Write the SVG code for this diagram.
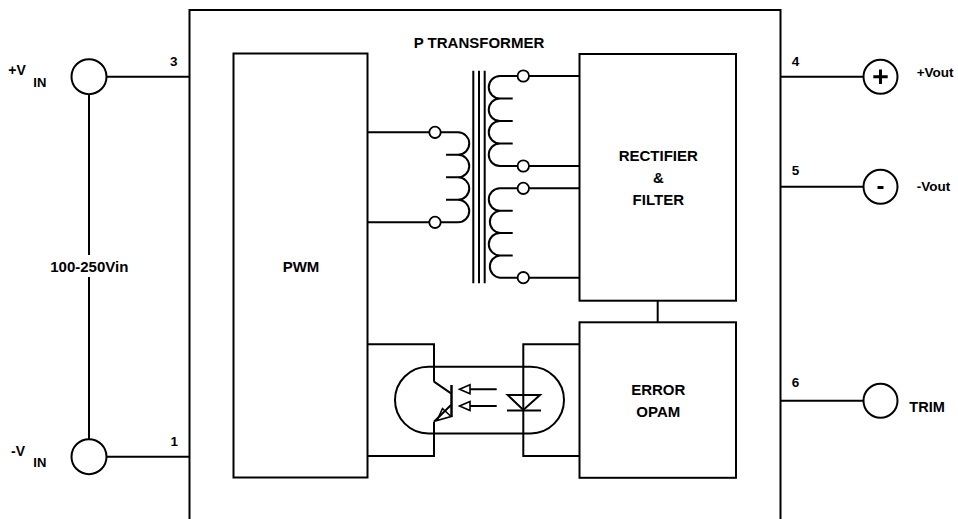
<svg xmlns="http://www.w3.org/2000/svg" width="958" height="519" viewBox="0 0 958 519">
<style>
.ln{fill:none;stroke:#000;stroke-width:2;stroke-linecap:butt;stroke-linejoin:miter}
.pin{fill:#fff;stroke:#000;stroke-width:2}
.tp{fill:#fff;stroke:#000;stroke-width:1.8}
.t{font-family:"Liberation Sans",Arial,Helvetica,sans-serif;font-weight:bold;fill:#000}
.big{font-size:15px}
.sm{font-size:13.5px}
</style>
<rect width="958" height="519" fill="#fff"/>

<g id="module">
<rect class="ln" x="189.5" y="10" width="591" height="530"/>
<text class="t big" x="479" y="48.3" text-anchor="middle">P TRANSFORMER</text>
</g>

<g id="pwm">
<rect class="ln" x="233.5" y="53.5" width="134" height="424"/>
<text class="t big" x="301" y="271.7" text-anchor="middle">PWM</text>
</g>

<g id="rectifier">
<rect class="ln" x="579.5" y="54" width="156.5" height="246.7"/>
<text class="t big" x="658.3" y="161" text-anchor="middle">RECTIFIER</text>
<text class="t big" x="658.3" y="183.3" text-anchor="middle">&amp;</text>
<text class="t big" x="658.3" y="205" text-anchor="middle">FILTER</text>
</g>

<g id="error">
<rect class="ln" x="579.5" y="322.3" width="156.5" height="155.5"/>
<text class="t big" x="658.3" y="395" text-anchor="middle">ERROR</text>
<text class="t big" x="658.3" y="416.7" text-anchor="middle">OPAM</text>
</g>

<g id="transformer">
<path class="ln" d="M473.3 70.7V283.3M479 70.7V283.3M484.7 70.7V283.3"/>
<path class="ln" d="M441 132.3H458A11.25 11.25 0 0 1 458 154.8A11.25 11.25 0 0 1 458 177.3A11.25 11.25 0 0 1 458 199.8A11.25 11.25 0 0 1 458 222.3H441"/>
<path class="ln" d="M446 154.8H458M446 177.3H458M446 199.8H458"/>
<path class="ln" d="M517.6 76H500A11.25 11.25 0 0 0 500 98.5A11.25 11.25 0 0 0 500 121A11.25 11.25 0 0 0 500 143.5A11.25 11.25 0 0 0 500 166H517.6"/>
<path class="ln" d="M500 98.5H512.7M500 121H512.7M500 143.5H512.7"/>
<path class="ln" d="M517.6 188.3H500A11.2 11.2 0 0 0 500 210.7A11.2 11.2 0 0 0 500 233A11.2 11.2 0 0 0 500 255.4A11.2 11.2 0 0 0 500 277.7H517.6"/>
<path class="ln" d="M500 210.7H512.7M500 233H512.7M500 255.4H512.7"/>
<circle class="tp" cx="435" cy="132.3" r="5.7"/>
<circle class="tp" cx="435" cy="222.3" r="5.7"/>
<circle class="tp" cx="523.3" cy="76" r="5.7"/>
<circle class="tp" cx="523.3" cy="166" r="5.7"/>
<circle class="tp" cx="523.3" cy="188.3" r="5.7"/>
<circle class="tp" cx="523.3" cy="277.7" r="5.7"/>
</g>

<g id="optocoupler">
<rect class="ln" x="395" y="366.7" width="169" height="66.7" rx="33.3" ry="33.3"/>
<path class="ln" d="M434 381.7L451 393.3"/>
<path class="ln" d="M451.5 385V417" style="stroke-width:2.5"/>
<path class="ln" d="M451 405L434 421.7"/>
<path class="ln" d="M437 420.5L442.5 408.5L451 416.5Z" style="stroke-width:1.6"/>
<path class="ln" d="M496.7 389.3H470M496.7 406H470"/>
<path class="ln" d="M459.5 389.3L470 384.8V393.8Z" style="stroke-width:1.6"/>
<path class="ln" d="M459.5 406L470 401.5V410.5Z" style="stroke-width:1.6"/>
<path class="ln" d="M507.7 395H540L523.3 410Z"/>
<path class="ln" d="M507 410.5H541"/>
</g>

<g id="connectors">
<path class="ln" d="M367.5 132.3H429.3M367.5 222.3H429.3"/>
<path class="ln" d="M529 76H579.5M529 166H579.5M529 188.3H579.5M529 277.7H579.5"/>
<path class="ln" d="M657.7 300.7V322.3"/>
<path class="ln" d="M367.5 344.3H434V381.7M434 421.7V456H367.5"/>
<path class="ln" d="M579.5 344.3H523.3V456H579.5"/>
<path class="ln" d="M106.5 76.7H189.5M106.5 456.7H189.5"/>
<path class="ln" d="M89 94.2V255M89 277V439.2"/>
<path class="ln" d="M780.5 76.7H863.5M780.5 186.7H863.5M780.5 400.7H863.5"/>
</g>

<g id="vin-plus">
<circle class="pin" cx="89" cy="76.7" r="17.5"/>
<text class="t" x="8.3" y="75" font-size="14">+V</text>
<text class="t" x="33.3" y="86.7" font-size="13">IN</text>
<text class="t sm" x="170" y="66">3</text>
</g>

<g id="vin-minus">
<circle class="pin" cx="89" cy="456.7" r="17.5"/>
<text class="t" x="11" y="456" font-size="14">-V</text>
<text class="t" x="33.3" y="466.7" font-size="13">IN</text>
<text class="t sm" x="170.5" y="446">1</text>
</g>

<text class="t big" x="89.3" y="271.7" text-anchor="middle">100-250Vin</text>

<g id="vout-plus">
<circle class="pin" cx="880.5" cy="76.7" r="17"/>
<path d="M880.5 69.5V83.9M873.3 76.7H887.7" stroke="#000" stroke-width="3" fill="none"/>
<text class="t sm" x="916.7" y="77">+Vout</text>
<text class="t sm" x="791.7" y="66">4</text>
</g>

<g id="vout-minus">
<circle class="pin" cx="880.5" cy="186.7" r="17"/>
<path d="M877.5 187.5H883.5" stroke="#000" stroke-width="3" fill="none"/>
<text class="t sm" x="916.7" y="190.7">-Vout</text>
<text class="t sm" x="791.7" y="175">5</text>
</g>

<g id="trim">
<circle class="pin" cx="880.5" cy="400.7" r="17"/>
<text class="t" x="909.3" y="411.7" font-size="14.5">TRIM</text>
<text class="t sm" x="791.7" y="387">6</text>
</g>
</svg>
